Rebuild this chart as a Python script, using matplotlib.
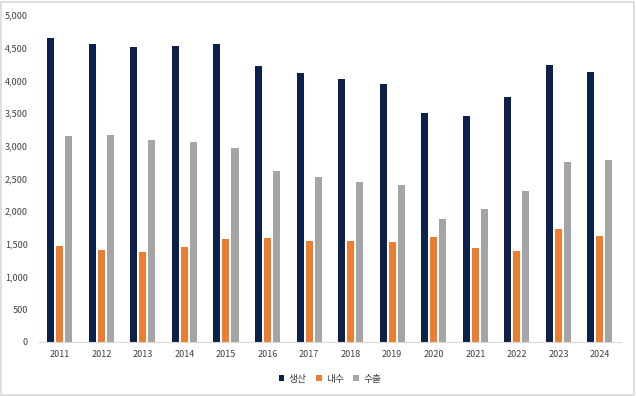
import matplotlib
matplotlib.use("Agg")
import matplotlib.pyplot as plt
import numpy as np
from matplotlib.patches import Rectangle
from matplotlib.ticker import FuncFormatter

plt.rcParams['font.family'] = ['Noto Sans CJK KR', 'DejaVu Sans']

years = ["2011", "2012", "2013", "2014", "2015", "2016", "2017",
         "2018", "2019", "2020", "2021", "2022", "2023", "2024"]
production = [4650, 4560, 4510, 4530, 4560, 4220, 4110,
              4020, 3945, 3500, 3455, 3750, 4235, 4128]
domestic = [1468, 1407, 1376, 1453, 1575, 1590, 1544,
            1544, 1529, 1605, 1437, 1391, 1728, 1621]
export = [3150, 3165, 3089, 3058, 2966, 2615, 2523,
          2446, 2400, 1881, 2034, 2309, 2752, 2783]
series_names = ["생산", "내수", "수출"]
colors = ["#0C2149", "#ED7D31", "#A5A5A5"]

fig = plt.figure(figsize=(6.36, 3.96), dpi=100)
ax = fig.add_axes([0.0613, 0.1364, 0.9147, 0.8256])

x = np.arange(len(years))
w = 0.169
off = 0.217
for i, vals in enumerate([production, domestic, export]):
    ax.bar(x + (i - 1) * off, vals, width=w, color=colors[i], label=series_names[i])

ax.set_xlim(-0.5, len(years) - 0.5)
ax.set_ylim(0, 5000)
ax.set_yticks(np.arange(0, 5001, 500))
ax.yaxis.set_major_formatter(FuncFormatter(lambda v, p: f"{int(v):,}"))
ax.set_xticks(x)
ax.set_xticklabels(years)
ax.tick_params(axis='both', length=0, labelsize=6.5, colors="#404040")
ax.tick_params(axis='x', pad=6)
ax.tick_params(axis='y', pad=8)

for s in ["top", "right", "left"]:
    ax.spines[s].set_visible(False)
ax.spines["bottom"].set_color("#D9D9D9")

ax.legend(loc="upper center", bbox_to_anchor=(0.5, -0.07), ncol=3, frameon=False,
          fontsize=7, handlelength=0.6, handleheight=0.6, handletextpad=0.4,
          columnspacing=1.0, labelcolor="#404040")

fig.patches.append(Rectangle((0.002, 0.003), 0.995, 0.993, transform=fig.transFigure,
                             fill=False, edgecolor="#D9D9D9", lw=1.2))

fig.savefig("out.png", dpi=100)
